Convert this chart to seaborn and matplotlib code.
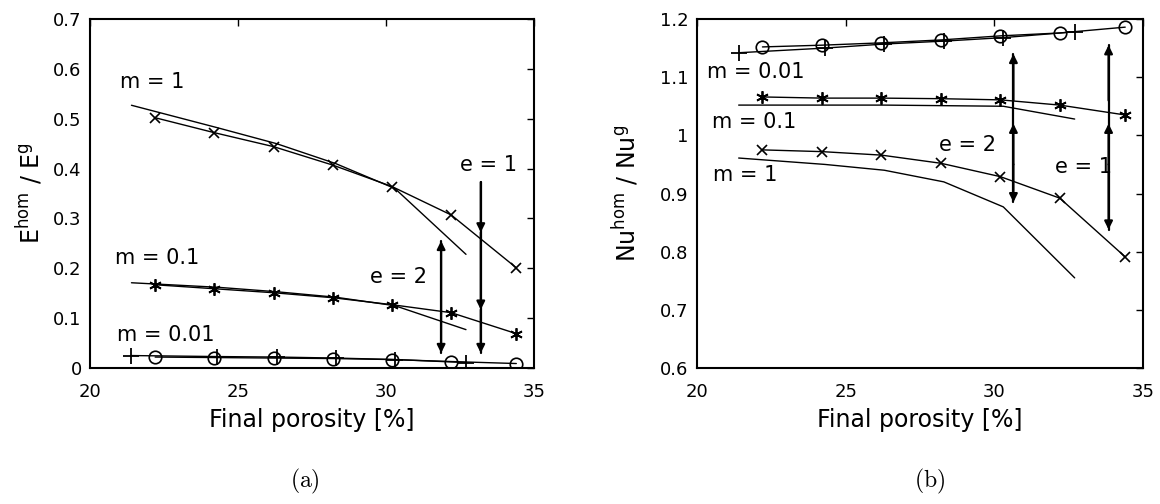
import matplotlib
matplotlib.use("Agg")
import matplotlib.pyplot as plt
import numpy as np
import pandas as pd
import seaborn as sns
from matplotlib.ticker import FuncFormatter

# porosity values of the computed points
x_e1 = [22.2, 24.2, 26.2, 28.2, 30.2, 32.2, 34.4]
x_e2 = [21.4, 24.3, 26.3, 28.3, 30.3, 32.7]

# (a) E_hom / E_g
E_m1_e1 = [0.502, 0.472, 0.444, 0.407, 0.364, 0.307, 0.201]
E_m01_e1 = [0.167, 0.159, 0.151, 0.141, 0.127, 0.111, 0.069]
E_m001_e1 = [0.022, 0.021, 0.020, 0.019, 0.017, 0.013, 0.009]
E_m1_e2 = [0.527, 0.482, 0.450, 0.410, 0.360, 0.228]
E_m01_e2 = [0.171, 0.162, 0.153, 0.142, 0.125, 0.077]
E_m001_e2 = [0.025, 0.023, 0.022, 0.020, 0.017, 0.011]

# (b) Nu_hom / Nu_g
Nu_m1_e1 = [0.975, 0.972, 0.966, 0.952, 0.929, 0.892, 0.791]
Nu_m01_e1 = [1.066, 1.064, 1.064, 1.063, 1.061, 1.052, 1.035]
Nu_m001_e1 = [1.152, 1.155, 1.159, 1.164, 1.171, 1.176, 1.186]
Nu_m1_e2 = [0.961, 0.950, 0.940, 0.920, 0.877, 0.755]
Nu_m01_e2 = [1.052, 1.052, 1.052, 1.051, 1.050, 1.028]
Nu_m001_e2 = [1.142, 1.150, 1.157, 1.162, 1.168, 1.178]

labels_a = [("m = 1", 21.0, 0.574), ("m = 0.1", 20.85, 0.221), ("m = 0.01", 20.9, 0.067),
            ("e = 2", 29.45, 0.183), ("e = 1", 32.5, 0.407)]
labels_b = [("m = 0.01", 20.35, 1.109), ("m = 0.1", 20.5, 1.023), ("m = 1", 20.55, 0.932),
            ("e = 2", 28.15, 0.983), ("e = 1", 32.05, 0.946)]

# arrows: (x, tail, head)
arrows_a = [(31.86, 0.11, 0.255), (31.86, 0.11, 0.030),
            (33.2, 0.373, 0.272), (33.2, 0.272, 0.117), (33.2, 0.117, 0.030)]
arrows_b = [(30.64, 1.06, 1.140), (30.64, 0.95, 1.020), (30.64, 0.95, 0.885),
            (33.84, 1.06, 1.155), (33.84, 0.95, 1.020), (33.84, 0.95, 0.838)]

sns.set_style("white")
plt.rcParams['font.family'] = ['DejaVu Sans']
plt.rcParams['mathtext.fontset'] = 'dejavusans'
plt.rcParams['text.color'] = 'k'
plt.rcParams['axes.labelcolor'] = 'k'

fig = plt.figure(figsize=(11.6, 5.04), dpi=100)
ax1 = fig.add_axes([0.0776, 0.2698, 0.3828, 0.6925])
ax2 = fig.add_axes([0.6009, 0.2698, 0.3845, 0.6925])

star = (6, 2, 0)


def draw(ax, m1e1, m01e1, m001e1, m1e2, m01e2, m001e2):
    kw = dict(color="k", linewidth=1.0, ax=ax, legend=False,
              markeredgecolor="k", markerfacecolor="none")
    sns.lineplot(x=x_e2, y=m1e2, **kw)
    sns.lineplot(x=x_e2, y=m01e2, **kw)
    sns.lineplot(x=x_e2, y=m001e2, marker="+", markersize=12, markeredgewidth=1.3, **kw)
    sns.lineplot(x=x_e1, y=m1e1, marker="x", markersize=7, markeredgewidth=1.2, **kw)
    sns.lineplot(x=x_e1, y=m01e1, marker=star, markersize=9, markeredgewidth=1.3, **kw)
    sns.lineplot(x=x_e1, y=m001e1, marker="o", markersize=9, markeredgewidth=1.2, **kw)


draw(ax1, E_m1_e1, E_m01_e1, E_m001_e1, E_m1_e2, E_m01_e2, E_m001_e2)
draw(ax2, Nu_m1_e1, Nu_m01_e1, Nu_m001_e1, Nu_m1_e2, Nu_m01_e2, Nu_m001_e2)

for ax, labs, arrs in [(ax1, labels_a, arrows_a), (ax2, labels_b, arrows_b)]:
    for t, x, y in labs:
        ax.text(x, y, t, fontsize=15, ha="left", va="center", color="k")
    for x, y0, y1 in arrs:
        ax.annotate("", xy=(x, y1), xytext=(x, y0),
                    arrowprops=dict(arrowstyle="-|>", color="k", lw=1.6,
                                    mutation_scale=12, shrinkA=0, shrinkB=0))
    # continuous shaft between the pieces of one double arrow
    for x in sorted(set(a[0] for a in arrs)):
        ys = [v for a in arrs if a[0] == x for v in a[1:]]
        ax.plot([x, x], [min(ys), max(ys)], color="k", lw=1.6)

fmt = FuncFormatter(lambda v, p: "%g" % round(v, 2))
ax1.set_xlim(20, 35)
ax1.set_ylim(0, 0.7)
ax1.set_yticks(np.arange(0, 0.71, 0.1))
ax2.set_xlim(20, 35)
ax2.set_ylim(0.6, 1.2)
ax2.set_yticks(np.arange(0.6, 1.21, 0.1))

for ax in (ax1, ax2):
    ax.set_xticks([20, 25, 30, 35])
    ax.yaxis.set_major_formatter(fmt)
    ax.tick_params(direction="in", length=5, width=1, top=True, right=True,
                   labelsize=13, colors="k")
    ax.tick_params(axis="x", pad=11)
    ax.tick_params(axis="y", pad=6)
    for s in ax.spines.values():
        s.set_linewidth(1.5)
        s.set_color("k")
    ax.set_xlabel("Final porosity [%]", fontsize=17, labelpad=5)

ax1.set_ylabel(r"$\mathrm{E}^{\mathrm{hom}}$ / $\mathrm{E}^{\mathrm{g}}$", fontsize=17, labelpad=6)
ax2.set_ylabel(r"$\mathrm{Nu}^{\mathrm{hom}}$ / $\mathrm{Nu}^{\mathrm{g}}$", fontsize=17, labelpad=14)

fig.text(0.263, 0.045, r"$\mathrm{(a)}$", fontsize=17, ha="center", va="center",
         math_fontfamily="cm")
fig.text(0.801, 0.045, r"$\mathrm{(b)}$", fontsize=17, ha="center", va="center",
         math_fontfamily="cm")

fig.savefig("out.png", dpi=100)
